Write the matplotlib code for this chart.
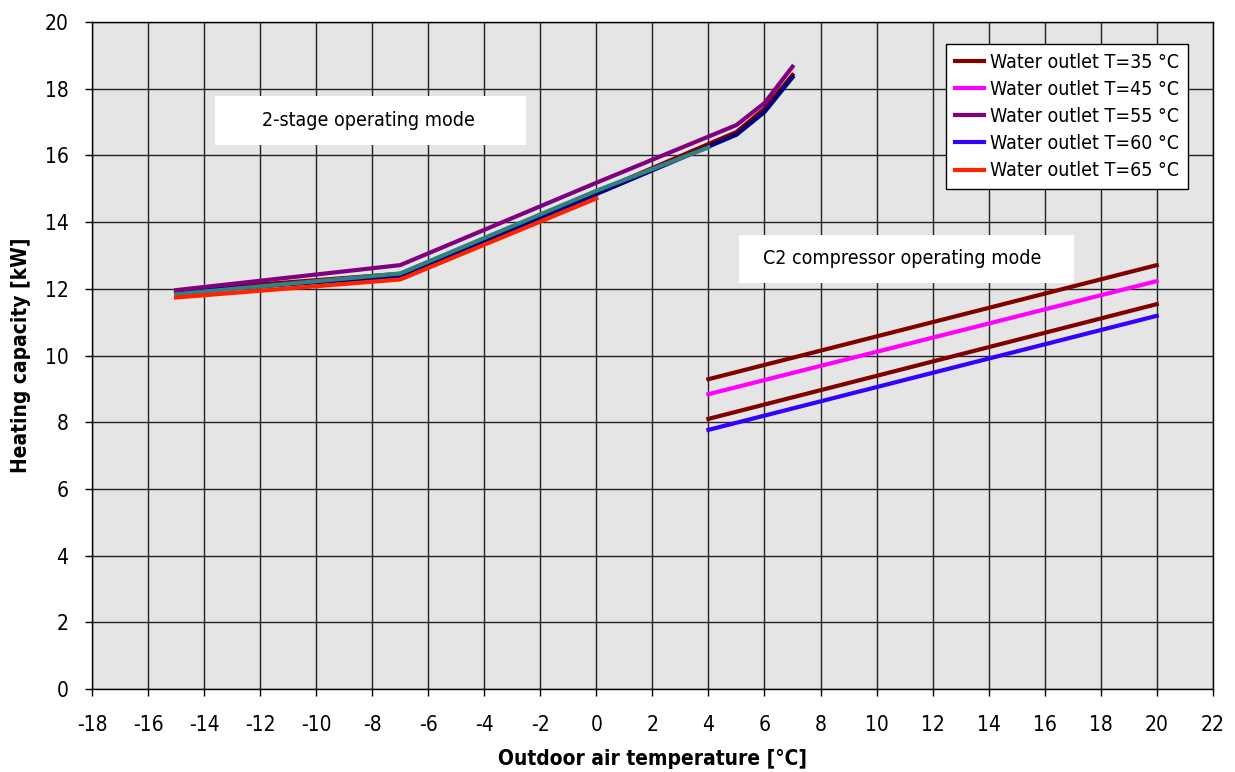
import matplotlib.pyplot as plt
from matplotlib.patches import Rectangle

plt.rcParams['font.family'] = ['DejaVu Sans']
plt.rcParams['font.stretch'] = 'condensed'
plt.rcParams['axes.unicode_minus'] = False

# 2-stage operating mode
x_2st = [-15, -7, 0, 5, 6, 7]
t35_2st = [11.94, 12.45, 14.90, 16.70, 17.40, 18.41]
x_teal = [-15, -7, 0, 4]
teal_2st = [11.84, 12.46, 14.94, 16.24]
t60_2st = [11.89, 12.38, 14.84, 16.62, 17.30, 18.34]
t55_2st = [11.96, 12.71, 15.18, 16.91, 17.57, 18.66]
x_65 = [-15, -7, 0]
t65_2st = [11.74, 12.28, 14.71]

# C2 compressor operating mode
x_c2 = [4, 20]
t35_c2_hi = [9.29, 12.71]
t45_c2 = [8.84, 12.23]
t35_c2_lo = [8.10, 11.54]
t60_c2 = [7.77, 11.19]

legend_labels = ["Water outlet T=35 °C", "Water outlet T=45 °C", "Water outlet T=55 °C",
                 "Water outlet T=60 °C", "Water outlet T=65 °C"]

c35 = "#800000"
c45 = "#ff00ff"
c55 = "#800080"
c60 = "#3300ff"
c65 = "#ff2200"

fig = plt.figure(figsize=(12.35, 7.72), dpi=100)
ax = fig.add_axes([0.0745, 0.1075, 0.9075, 0.864])
ax.set_facecolor("#e5e5e5")

lw = 3
ax.plot(x_2st, t35_2st, color=c35, lw=lw, zorder=3)
ax.plot(x_2st, t60_2st, color="#000080", lw=lw, zorder=3)
ax.plot(x_teal, teal_2st, color="#338080", lw=lw, zorder=3)
ax.plot(x_2st, t55_2st, color=c55, lw=lw, zorder=3)
ax.plot(x_65, t65_2st, color=c65, lw=lw, zorder=3)

h35, = ax.plot(x_c2, t35_c2_hi, color=c35, lw=lw, zorder=3)
h45, = ax.plot(x_c2, t45_c2, color=c45, lw=lw, zorder=3)
ax.plot(x_c2, t35_c2_lo, color=c35, lw=lw, zorder=3)
h60, = ax.plot(x_c2, t60_c2, color=c60, lw=lw, zorder=3)
h55, = ax.plot([], [], color=c55, lw=lw)
h65, = ax.plot([], [], color=c65, lw=lw)

ax.set_xlim(-18, 22)
ax.set_ylim(0, 20)
ax.set_xticks(range(-18, 23, 2))
ax.set_yticks(range(0, 21, 2))
ax.grid(True, color="#222222", lw=1, zorder=1)
ax.set_axisbelow(True)
ax.tick_params(labelsize=15, length=5, width=1, color="black", direction="out", pad=14)
ax.tick_params(axis="y", pad=12)
for s in ax.spines.values():
    s.set_color("black")
    s.set_linewidth(1)

ax.set_xlabel("Outdoor air temperature [°C]", fontsize=15, fontweight="bold", labelpad=10)
ax.set_ylabel("Heating capacity [kW]", fontsize=15, fontweight="bold", labelpad=10)

# text boxes
ax.add_patch(Rectangle((-13.61, 16.31), 11.09, 1.47, facecolor="white", edgecolor="none", zorder=2))
ax.text(-8.15, 17.05, "2-stage operating mode", fontsize=14, ha="center", va="center", zorder=2)
ax.add_patch(Rectangle((5.08, 12.17), 11.95, 1.44, facecolor="white", edgecolor="none", zorder=2))
ax.text(10.9, 12.9, "C2 compressor operating mode", fontsize=14, ha="center", va="center", zorder=2)

leg = ax.legend([h35, h45, h55, h60, h65], legend_labels, loc="upper left",
                bbox_to_anchor=(0.762, 0.967), fontsize=14, frameon=True, fancybox=False,
                handlelength=1.5, handletextpad=0.3, labelspacing=0.42, borderpad=0.45,
                borderaxespad=0)
leg.get_frame().set_edgecolor("black")
leg.get_frame().set_linewidth(1)
leg.get_frame().set_alpha(1)
leg.set_zorder(5)

fig.savefig("out.png", dpi=100)
